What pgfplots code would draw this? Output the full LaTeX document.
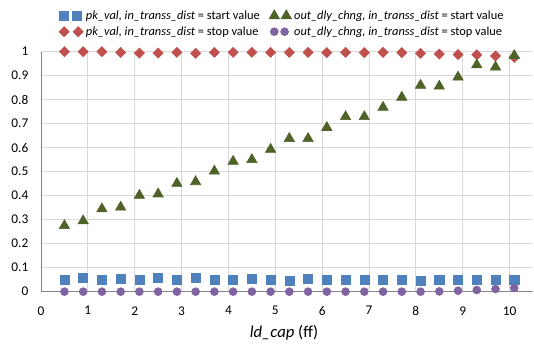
\documentclass[border=0pt]{standalone}
\usepackage{fontspec}
\setmainfont{Carlito}
\usepackage{pgfplots}
\usepackage{pgfplotstable}
\pgfplotsset{compat=1.18}
\definecolor{cblue}{HTML}{4F81BD}
\definecolor{cred}{HTML}{C0504D}
\definecolor{cgreen}{HTML}{4F6228}
\definecolor{cpurple}{HTML}{8064A2}
\definecolor{cgrid}{HTML}{D9D9D9}
\definecolor{caxis}{HTML}{868686}

\pgfplotstableread{
x    pkstart pkstop outstart outstop
0.5  0.051   1.000  0.275    0.000
0.9  0.057   1.000  0.295    0.000
1.3  0.050   1.000  0.345    0.000
1.7  0.054   0.997  0.352    0.000
2.1  0.050   0.994  0.401    0.000
2.5  0.058   0.994  0.407    0.000
2.9  0.050   0.997  0.451    0.000
3.3  0.058   0.993  0.458    0.000
3.7  0.051   0.997  0.502    0.000
4.1  0.050   0.997  0.543    0.000
4.5  0.054   0.997  0.550    0.000
4.9  0.050   0.997  0.593    0.000
5.3  0.046   0.997  0.638    0.000
5.7  0.054   0.997  0.638    0.000
6.1  0.051   0.996  0.684    0.000
6.5  0.050   0.997  0.729    0.000
6.9  0.051   0.996  0.729    0.000
7.3  0.051   0.997  0.768    0.000
7.7  0.050   0.996  0.810    0.000
8.1  0.046   0.993  0.860    0.000
8.5  0.051   0.990  0.856    0.001
8.9  0.048   0.988  0.894    0.004
9.3  0.048   0.987  0.945    0.007
9.7  0.050   0.982  0.936    0.011
10.1 0.051   0.976  0.984    0.015
}\datatable

\begin{document}
\begin{tikzpicture}
\path[use as bounding box] (0,0) rectangle (400.5pt,258.75pt);
\begin{axis}[
  at={(30.75pt,40pt)}, anchor=south west,
  scale only axis, width=369pt, height=180pt,
  xmin=0, xmax=10.5, ymin=0, ymax=1,
  xtick={0,1,2,3,4,5,6,7,8,9,10},
  ytick={0,0.1,0.2,0.3,0.4,0.5,0.6,0.7,0.8,0.9,1},
  axis x line*=bottom, axis y line*=left,
  axis line style={draw=caxis, line width=0.75pt, -},
  grid=major, major grid style={draw=cgrid, line width=0.75pt},
  major tick length=0pt,
  clip=false,
  /pgf/number format/assume math mode=true,
  tick label style={font=\fontsize{10}{12}\selectfont},
  y tick label style={/pgf/number format/.cd, fixed, precision=1, /tikz/.cd, xshift=-6pt},
  x tick label style={yshift=-7.5pt},
  xlabel={\textit{ld\_cap} (f{}f)},
  xlabel style={font=\fontsize{12.5}{14}\selectfont, at={(axis description cs:0.494,0)}, anchor=center, yshift=-31pt},
  legend style={draw=none, fill=none, at={(axis description cs:0.028,1.195)}, anchor=north west,
    font=\fontsize{9.3}{11.5}\selectfont, row sep=0pt,
    /tikz/every even column/.append style={column sep=5pt}},
  legend columns=2, transpose legend, legend cell align=left,
]
\addplot[only marks, mark=square*, mark size=3.4pt, color=cblue,
  legend image code/.code={\draw[only marks] plot coordinates {(0cm,0cm) (9.75pt,0cm)};}]
  table[x=x, y=pkstart] {\datatable};
\addlegendentry{\textit{pk\_val, in\_transs\_dist} = start value}
\addplot[only marks, mark=square*, mark size=2.7pt, mark options={rotate=45}, color=cred,
  legend image code/.code={\draw[only marks] plot coordinates {(0cm,0cm) (10.5pt,0cm)};}]
  table[x=x, y=pkstop] {\datatable};
\addlegendentry{\textit{pk\_val, in\_transs\_dist} = stop value}
\addplot[only marks, mark=triangle*, mark size=4.5pt, color=cgreen,
  legend image code/.code={\draw[only marks] plot coordinates {(0cm,0cm) (9pt,0cm)};}]
  table[x=x, y=outstart] {\datatable};
\addlegendentry{\textit{out\_dly\_chng, in\_transs\_dist} = start value}
\addplot[only marks, mark=*, mark size=3pt, color=cpurple,
  legend image code/.code={\draw[only marks] plot coordinates {(0cm,0cm) (7.7pt,0cm)};}]
  table[x=x, y=outstop] {\datatable};
\addlegendentry{\textit{out\_dly\_chng, in\_transs\_dist} = stop value}
\end{axis}
\end{tikzpicture}
\end{document}
